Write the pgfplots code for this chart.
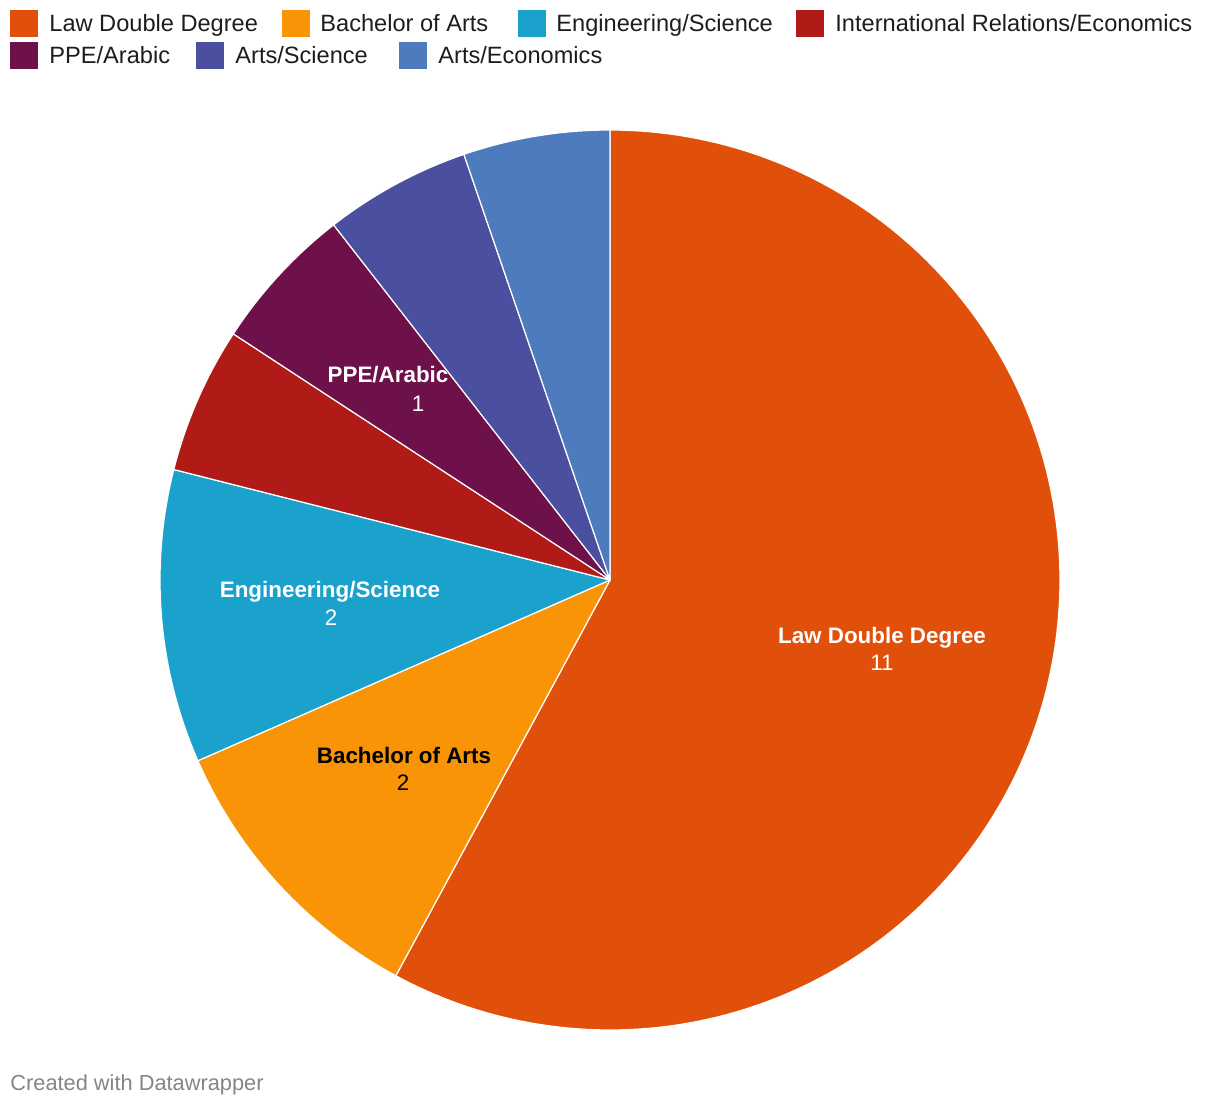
\documentclass[border=0pt]{standalone}
\usepackage{pgfplots}
\usepackage{pgfplotstable}
\pgfplotsset{compat=1.18}
\usepackage{fontspec}
\setmainfont{Liberation Sans}
\definecolor{slice0}{HTML}{E0500A}
\definecolor{slice1}{HTML}{F89406}
\definecolor{slice2}{HTML}{1AA2CD}
\definecolor{slice3}{HTML}{B01A17}
\definecolor{slice4}{HTML}{6E104A}
\definecolor{slice5}{HTML}{4B4FA0}
\definecolor{slice6}{HTML}{4D7BBE}
\definecolor{legtext}{HTML}{1D1D1D}
\pgfplotstableread[col sep=comma]{
label,value
Law Double Degree,11
Bachelor of Arts,2
Engineering/Science,2
International Relations/Economics,1
PPE/Arabic,1
Arts/Science,1
Arts/Economics,1
}\piedata
\begin{document}
\begin{tikzpicture}
\begin{axis}[width=610pt,height=553pt,scale only axis,
  xmin=0,xmax=1220,ymin=0,ymax=1106,y dir=reverse,
  hide axis,clip=false]
\path (axis cs:0,0) rectangle (axis cs:1220,1106);
\pgfplotstablegetrowsof{\piedata}
\pgfmathtruncatemacro\lastrow{\pgfplotsretval-1}
\gdef\total{0}
\pgfplotsforeachungrouped \i in {0,...,\lastrow}{%
  \pgfplotstablegetelem{\i}{value}\of\piedata
  \pgfmathsetmacro\newtotal{\total+\pgfplotsretval}%
  \global\let\total\newtotal
}
\gdef\cum{0}
\pgfplotsforeachungrouped \i in {0,...,\lastrow}{%
  \pgfplotstablegetelem{\i}{value}\of\piedata
  \pgfmathsetmacro\angA{90-360*\cum/\total}%
  \pgfmathsetmacro\newcum{\cum+\pgfplotsretval}%
  \pgfmathsetmacro\angB{90-360*\newcum/\total}%
  \edef\doslice{\noexpand\addplot[fill=slice\i, draw=white, line width=0.6pt, line join=round, domain=\angB:\angA, samples=150] ({610+450*cos(x)},{580-450*sin(x)}) -- (axis cs:610,580) -- cycle;}%
  \doslice
  \global\let\cum\newcum
}
% slice labels
\node[anchor=base,inner sep=0,text=white,font=\fontsize{11.2pt}{13pt}\selectfont\bfseries] at (axis cs:882,643) {Law Double Degree};
\node[anchor=base,inner sep=0,text=white,font=\fontsize{11.2pt}{13pt}\selectfont] at (axis cs:882,670) {11};
\node[anchor=base,inner sep=0,text=black,font=\fontsize{11.2pt}{13pt}\selectfont\bfseries] at (axis cs:404,763) {Bachelor of Arts};
\node[anchor=base,inner sep=0,text=black,font=\fontsize{11.2pt}{13pt}\selectfont] at (axis cs:403,790) {2};
\node[anchor=base,inner sep=0,text=white,font=\fontsize{11.2pt}{13pt}\selectfont\bfseries] at (axis cs:330,597) {Engineering/Science};
\node[anchor=base,inner sep=0,text=white,font=\fontsize{11.2pt}{13pt}\selectfont] at (axis cs:331,625) {2};
\node[anchor=base,inner sep=0,text=white,font=\fontsize{11.2pt}{13pt}\selectfont\bfseries] at (axis cs:388,383) {PPE/Arabic};
\node[anchor=base,inner sep=0,text=white,font=\fontsize{11.2pt}{13pt}\selectfont] at (axis cs:418,412) {1};
% legend
\fill[slice0] (axis cs:10,10) rectangle (axis cs:38,37);
\node[anchor=base west,inner sep=0,text=legtext,font=\fontsize{11.8pt}{14pt}\selectfont] at (axis cs:49,32) {Law Double Degree};
\fill[slice1] (axis cs:282,10) rectangle (axis cs:310,37);
\node[anchor=base west,inner sep=0,text=legtext,font=\fontsize{11.8pt}{14pt}\selectfont] at (axis cs:320,32) {Bachelor of Arts};
\fill[slice2] (axis cs:518,10) rectangle (axis cs:546,37);
\node[anchor=base west,inner sep=0,text=legtext,font=\fontsize{11.8pt}{14pt}\selectfont] at (axis cs:556,32) {Engineering/Science};
\fill[slice3] (axis cs:796,10) rectangle (axis cs:824,37);
\node[anchor=base west,inner sep=0,text=legtext,font=\fontsize{11.8pt}{14pt}\selectfont] at (axis cs:835,32) {International Relations/Economics};
\fill[slice4] (axis cs:10,42) rectangle (axis cs:38,69);
\node[anchor=base west,inner sep=0,text=legtext,font=\fontsize{11.8pt}{14pt}\selectfont] at (axis cs:49,64) {PPE/Arabic};
\fill[slice5] (axis cs:196,42) rectangle (axis cs:224,69);
\node[anchor=base west,inner sep=0,text=legtext,font=\fontsize{11.8pt}{14pt}\selectfont] at (axis cs:235,64) {Arts/Science};
\fill[slice6] (axis cs:399,42) rectangle (axis cs:427,69);
\node[anchor=base west,inner sep=0,text=legtext,font=\fontsize{11.8pt}{14pt}\selectfont] at (axis cs:438,64) {Arts/Economics};
% footer
\node[anchor=base west,inner sep=0,text=black!48,font=\fontsize{10.9pt}{13pt}\selectfont] at (axis cs:10,1090) {Created with Datawrapper};
\end{axis}
\end{tikzpicture}
\end{document}
